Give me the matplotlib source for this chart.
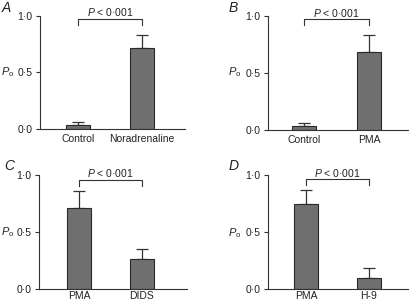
import matplotlib
matplotlib.use("Agg")
import matplotlib.pyplot as plt

plt.rcParams['font.family'] = ['Liberation Sans', 'DejaVu Sans']
plt.rcParams['mathtext.fontset'] = 'custom'
plt.rcParams['mathtext.it'] = 'Liberation Sans:italic'
plt.rcParams['mathtext.rm'] = 'Liberation Sans'

panel_labels = ["A", "B", "C", "D"]
categories = [["Control", "Noradrenaline"], ["Control", "PMA"], ["PMA", "DIDS"], ["PMA", "H-9"]]
means = [[0.035, 0.72], [0.035, 0.68], [0.71, 0.26], [0.75, 0.10]]
errors = [[0.025, 0.11], [0.025, 0.15], [0.15, 0.095], [0.12, 0.08]]
yticks = [0.0, 0.5, 1.0]
ytick_labels = ["0·0", "0·5", "1·0"]
p_text = "$P$ < 0·001"

W, H = 409, 303
fig = plt.figure(figsize=(W / 100, H / 100), dpi=100)

# axes geometry in pixels: (left, right, y_of_0, y_of_1, x0 center, x1 center, bracket_y, text_y)
geom = [
    (40, 185, 129, 16, 78, 142, 0.97, 1.035),
    (268, 409, 130, 16, 304, 369, 0.97, 1.03),
    (39, 187, 289, 175, 79, 142, 0.957, 1.02),
    (268, 409, 289, 175, 306, 369, 0.965, 1.02),
]
xpads = [3.5, 3.5, 1.5, 1.5]
label_pos = [(2, 8), (229, 8), (4, 166), (229, 166)]
ylab_pos = [(8, 72), (235, 72), (8, 232), (235, 233)]

for i in range(4):
    L, R, y0, y1, c0, c1, by, ty = geom[i]
    ax = fig.add_axes([L / W, 1 - y0 / H, (R - L) / W, (y0 - y1) / H])
    unit = c1 - c0
    ax.set_xlim((L - c0) / unit, (R - c0) / unit)
    ax.set_ylim(0, 1.0)
    x = [0, 1]
    ax.bar(x, means[i], width=0.38, color='#6f6f6f', edgecolor='#2a2a2a', linewidth=0.8, zorder=2)
    ax.errorbar(x, means[i], yerr=[[0, 0], errors[i]], fmt='none', ecolor='#333333',
                elinewidth=0.9, capsize=4, capthick=0.9, zorder=1)
    ax.set_xticks(x)
    ax.set_xticklabels(categories[i], fontsize=7.5, color='#222222')
    ax.tick_params(axis='x', length=0, pad=xpads[i])
    ax.set_yticks(yticks)
    ax.set_yticklabels(ytick_labels, fontsize=7.5, color='#222222')
    ax.tick_params(axis='y', length=3, width=0.8, pad=2.5, color='#333333')
    for s in ['top', 'right']:
        ax.spines[s].set_visible(False)
    for s in ['left', 'bottom']:
        ax.spines[s].set_linewidth(0.8)
        ax.spines[s].set_color('#333333')
    # significance bracket
    ax.plot([0, 0, 1, 1], [by - 0.05, by, by, by - 0.05], color='#333333', lw=0.8, clip_on=False)
    ax.text(0.5, ty, p_text, ha='center', va='center', fontsize=7.5, color='#222222', clip_on=False)
    lx, ly = label_pos[i]
    fig.text(lx / W, 1 - ly / H, panel_labels[i], fontsize=10, style='italic', ha='left', va='center', color='#222222')
    px, py = ylab_pos[i]
    fig.text(px / W, 1 - py / H, "$P_\\mathrm{o}$", fontsize=8, ha='center', va='center', color='#222222')

fig.savefig("out.png", dpi=100)
